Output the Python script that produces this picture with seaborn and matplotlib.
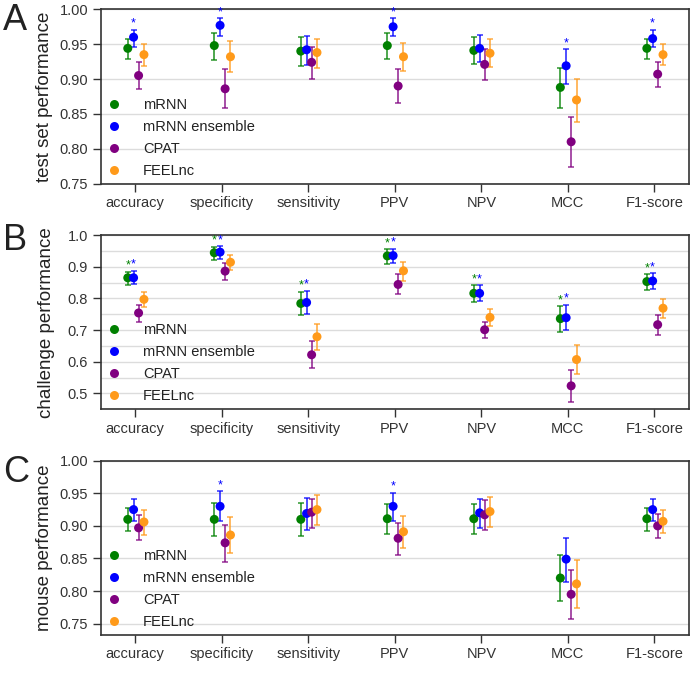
import numpy as np
import pandas as pd
import matplotlib
matplotlib.use("Agg")
import matplotlib.pyplot as plt
from matplotlib.ticker import MultipleLocator
import seaborn as sns

# ------------------------------------------------------------
# podaci (ocitano sa slike)
# ------------------------------------------------------------
metrics = ["accuracy", "specificity", "sensitivity", "PPV", "NPV", "MCC", "F1-score"]
methods = ["mRNN", "mRNN ensemble", "CPAT", "FEELnc"]
colors = ["green", "blue", "purple", "#ff9a1a"]
offsets = [-0.087, -0.02, 0.038, 0.1]

# A - test set
a_mrnn = [0.944, 0.948, 0.940, 0.948, 0.941, 0.888, 0.944]
a_mrnn_lo = [0.929, 0.928, 0.918, 0.929, 0.921, 0.859, 0.929]
a_mrnn_hi = [0.958, 0.966, 0.960, 0.966, 0.960, 0.916, 0.958]
a_ens = [0.960, 0.977, 0.942, 0.975, 0.944, 0.919, 0.958]
a_ens_lo = [0.946, 0.962, 0.920, 0.962, 0.924, 0.893, 0.946]
a_ens_hi = [0.971, 0.987, 0.962, 0.987, 0.963, 0.943, 0.971]
a_cpat = [0.905, 0.886, 0.924, 0.890, 0.921, 0.810, 0.907]
a_cpat_lo = [0.886, 0.858, 0.900, 0.866, 0.899, 0.774, 0.889]
a_cpat_hi = [0.924, 0.914, 0.946, 0.914, 0.943, 0.846, 0.924]
a_feel = [0.935, 0.932, 0.938, 0.932, 0.937, 0.870, 0.935]
a_feel_lo = [0.919, 0.910, 0.916, 0.912, 0.917, 0.838, 0.920]
a_feel_hi = [0.950, 0.954, 0.958, 0.952, 0.957, 0.900, 0.950]

# B - challenge
b_mrnn = [0.865, 0.944, 0.784, 0.934, 0.816, 0.736, 0.853]
b_mrnn_lo = [0.842, 0.921, 0.749, 0.909, 0.789, 0.695, 0.827]
b_mrnn_hi = [0.884, 0.963, 0.821, 0.956, 0.841, 0.776, 0.876]
b_ens = [0.865, 0.946, 0.787, 0.935, 0.816, 0.739, 0.855]
b_ens_lo = [0.844, 0.923, 0.751, 0.912, 0.791, 0.700, 0.829]
b_ens_hi = [0.887, 0.965, 0.824, 0.957, 0.842, 0.780, 0.879]
b_cpat = [0.754, 0.886, 0.622, 0.844, 0.701, 0.524, 0.717]
b_cpat_lo = [0.727, 0.858, 0.579, 0.813, 0.676, 0.474, 0.683]
b_cpat_hi = [0.780, 0.913, 0.665, 0.877, 0.725, 0.575, 0.749]
b_feel = [0.797, 0.914, 0.679, 0.887, 0.740, 0.607, 0.769]
b_feel_lo = [0.772, 0.889, 0.636, 0.856, 0.714, 0.560, 0.737]
b_feel_hi = [0.821, 0.937, 0.719, 0.915, 0.765, 0.652, 0.798]

# C - mouse
c_mrnn = [0.910, 0.910, 0.910, 0.911, 0.911, 0.820, 0.911]
c_mrnn_lo = [0.892, 0.884, 0.884, 0.887, 0.887, 0.784, 0.892]
c_mrnn_hi = [0.928, 0.935, 0.935, 0.933, 0.933, 0.855, 0.928]
c_ens = [0.925, 0.930, 0.919, 0.930, 0.920, 0.849, 0.925]
c_ens_lo = [0.908, 0.908, 0.894, 0.908, 0.897, 0.814, 0.907]
c_ens_hi = [0.941, 0.953, 0.943, 0.951, 0.942, 0.881, 0.941]
c_cpat = [0.897, 0.874, 0.921, 0.881, 0.917, 0.795, 0.900]
c_cpat_lo = [0.879, 0.844, 0.896, 0.855, 0.893, 0.757, 0.882]
c_cpat_hi = [0.916, 0.902, 0.942, 0.905, 0.940, 0.832, 0.918]
c_feel = [0.906, 0.886, 0.925, 0.891, 0.922, 0.811, 0.907]
c_feel_lo = [0.886, 0.858, 0.901, 0.866, 0.899, 0.774, 0.889]
c_feel_hi = [0.924, 0.914, 0.947, 0.915, 0.944, 0.847, 0.925]

# zvezdice (indeksi metrika sa znacajnom razlikom)
a_stars = {"mRNN ensemble": [0, 1, 3, 5, 6]}
b_stars = {"mRNN": [0, 1, 2, 3, 4, 5, 6], "mRNN ensemble": [0, 1, 2, 3, 4, 5, 6]}
c_stars = {"mRNN ensemble": [1, 3]}

panels = [
    ("A", "test set performance", (0.75, 1.00), 0.05, False,
     [(a_mrnn, a_mrnn_lo, a_mrnn_hi), (a_ens, a_ens_lo, a_ens_hi),
      (a_cpat, a_cpat_lo, a_cpat_hi), (a_feel, a_feel_lo, a_feel_hi)], a_stars),
    ("B", "challenge performance", (0.45, 1.00), 0.1, True,
     [(b_mrnn, b_mrnn_lo, b_mrnn_hi), (b_ens, b_ens_lo, b_ens_hi),
      (b_cpat, b_cpat_lo, b_cpat_hi), (b_feel, b_feel_lo, b_feel_hi)], b_stars),
    ("C", "mouse performance", (0.7326, 1.00), 0.05, False,
     [(c_mrnn, c_mrnn_lo, c_mrnn_hi), (c_ens, c_ens_lo, c_ens_hi),
      (c_cpat, c_cpat_lo, c_cpat_hi), (c_feel, c_feel_lo, c_feel_hi)], c_stars),
]

# ------------------------------------------------------------
# stil
# ------------------------------------------------------------
sns.set_theme(style="ticks")
plt.rcParams["font.family"] = ["Liberation Sans", "DejaVu Sans"]
plt.rcParams["axes.edgecolor"] = "#333333"
plt.rcParams["axes.linewidth"] = 1.2
plt.rcParams["xtick.color"] = "#333333"
plt.rcParams["ytick.color"] = "#333333"
plt.rcParams["text.color"] = "#222222"
plt.rcParams["axes.labelcolor"] = "#222222"

fig, axes = plt.subplots(3, 1, figsize=(6.93, 6.80), dpi=100)
fig.subplots_adjust(left=0.1453, right=0.9942, top=0.9863, bottom=0.0662, hspace=0.295)

letter_y = [0.9956, 0.672, 0.331]
label_x = [-0.081, -0.077, -0.081]

for ax, (letter, ylab, ylim, major, minor_grid, series, stars), ly, lx in zip(
        axes, panels, letter_y, label_x):
    rows = []
    for m, off, (val, lo, hi) in zip(methods, offsets, series):
        for i, met in enumerate(metrics):
            rows.append({"method": m, "metric": met, "x": i + off,
                         "value": val[i], "lo": lo[i], "hi": hi[i]})
    df = pd.DataFrame(rows)

    # error bars
    for m, c in zip(methods, colors):
        sub = df[df["method"] == m]
        ax.errorbar(sub["x"], sub["value"],
                    yerr=[sub["value"] - sub["lo"], sub["hi"] - sub["value"]],
                    fmt="none", ecolor=c, elinewidth=1.3, capsize=2.2,
                    capthick=1.2, alpha=0.75, zorder=3)

    sns.scatterplot(data=df, x="x", y="value", hue="method", hue_order=methods,
                    palette=colors, s=42, linewidth=0, ax=ax, zorder=4)

    # zvezdice
    for m, idx in stars.items():
        c = colors[methods.index(m)]
        sub = df[df["method"] == m].reset_index(drop=True)
        for i in idx:
            ax.text(sub.loc[i, "x"], sub.loc[i, "hi"], "*", color=c,
                    ha="center", va="bottom", fontsize=9)

    ax.set_xlim(-0.4, 6.4)
    ax.set_xticks(range(len(metrics)))
    ax.set_xticklabels(metrics)
    ax.yaxis.set_major_locator(MultipleLocator(major))
    if major == 0.05:
        ax.yaxis.set_major_formatter(plt.FormatStrFormatter("%.2f"))
    else:
        ax.yaxis.set_major_formatter(plt.FormatStrFormatter("%.1f"))
    ax.set_ylim(*ylim)
    ax.grid(axis="y", which="major", color="#dcdcdc", linewidth=1.0, zorder=0)
    if minor_grid:
        ax.yaxis.set_minor_locator(MultipleLocator(0.05))
        ax.grid(axis="y", which="minor", color="#dcdcdc", linewidth=1.0, zorder=0)
        ax.tick_params(axis="y", which="minor", length=0)
    ax.set_axisbelow(True)
    ax.tick_params(axis="both", which="major", labelsize=10.5, length=6, width=1.0, pad=3)
    ax.set_xlabel("")
    ax.set_ylabel(ylab, fontsize=13.5)
    ax.yaxis.set_label_coords(lx, 0.5)

    ax.legend(loc="lower left", frameon=False, fontsize=10.5, handlelength=1.0,
              handletextpad=1.5, borderaxespad=0.1, borderpad=0.3,
              labelspacing=0.55)

    fig.text(0.004, ly, letter, fontsize=26, va="top", ha="left")

plt.savefig("out.png", dpi=100)
plt.close()
